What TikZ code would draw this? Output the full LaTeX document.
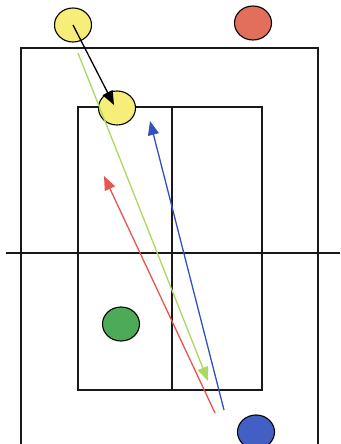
\documentclass[tikz,border=0pt]{standalone}
\usetikzlibrary{arrows.meta,shapes.geometric}
\definecolor{yellowp}{RGB}{246,238,120}
\definecolor{redp}{RGB}{226,110,92}
\definecolor{greenp}{RGB}{76,170,88}
\definecolor{bluep}{RGB}{66,96,196}
\definecolor{redrun}{RGB}{232,84,80}
\definecolor{greenrun}{RGB}{170,216,96}
\definecolor{bluerun}{RGB}{50,80,190}
\tikzset{
  player/.style={ellipse, draw=black, line width=1.1pt, minimum width=37pt, minimum height=34pt, inner sep=0pt},
  run/.style={line width=1.3pt, -{Triangle[length=14pt,width=11pt]}},
  court/.style={line width=1.4pt, black!90}
}
\begin{document}
\begin{tikzpicture}[x=1pt, y=-1pt]
  \useasboundingbox (0,0) rectangle (340,444);
  % court lines
  \draw[court] (21,444) -- (21,48) -- (318,48) -- (318,444);
  \draw[court] (78,107) rectangle (262,390);
  \draw[court] (172,107) -- (172,390);
  \draw[court] (6,253) -- (340,253);
  % players
  \node[player, fill=yellowp] (Y1) at (73,25) {};
  \node[player, fill=redp] (R1) at (253,23) {};
  \node[player, fill=yellowp] (Y2) at (117,108) {};
  \node[player, fill=greenp] (G1) at (121,324) {};
  \node[player, fill=bluep] (B1) at (256,432) {};
  % runs
  \coordinate (Gs) at (78,53);
  \coordinate (Ge) at (208,381);
  \coordinate (Rs) at (215,413);
  \coordinate (Re) at (104,176);
  \coordinate (Bs) at (224,410);
  \coordinate (Be) at (150,121);
  \coordinate (Ke) at (114,105);
  \draw[run, greenrun] (Gs) -- (Ge);
  \draw[run, redrun] (Rs) -- (Re);
  \draw[run, bluerun] (Bs) -- (Be);
  \draw[run, black] (Y1.center) -- (Ke);
\end{tikzpicture}
\end{document}
